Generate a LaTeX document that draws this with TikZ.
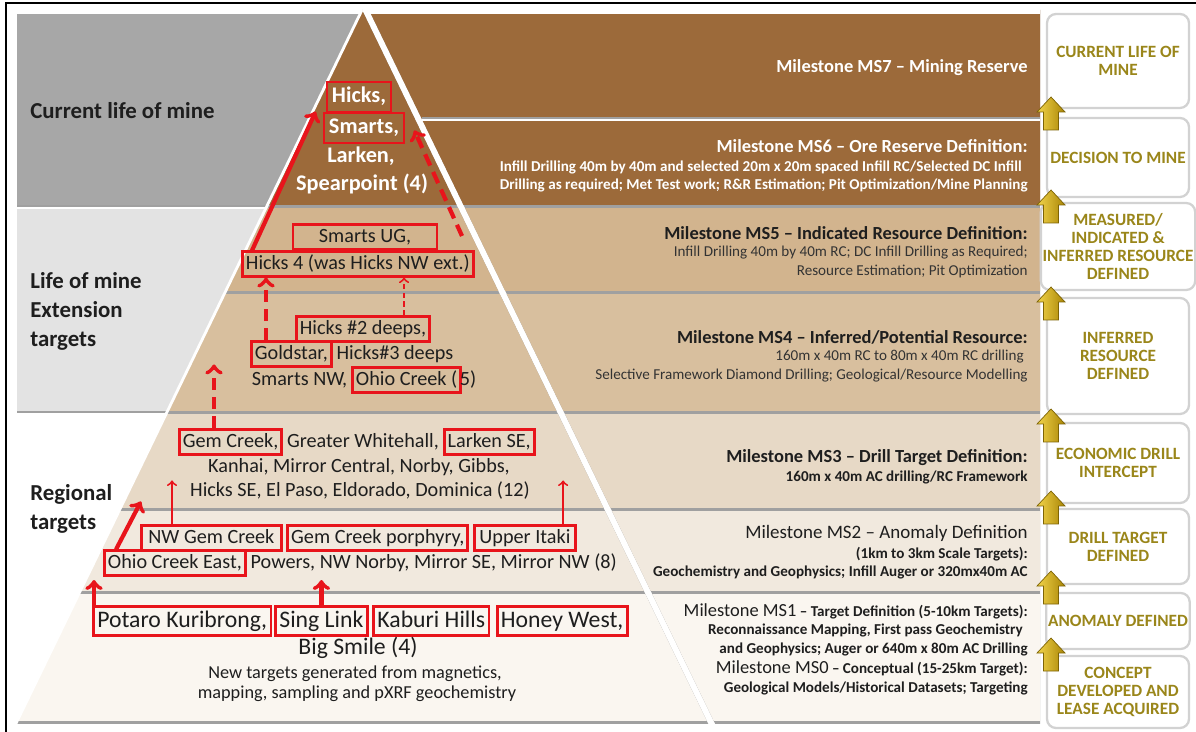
\documentclass[tikz,border=0pt]{standalone}
\usepackage{fontspec}
\setmainfont{Carlito}
\usetikzlibrary{positioning,calc}

% colours of the tiers and bands
\definecolor{brownD}{HTML}{9C6A3A}
\definecolor{tanA}{HTML}{D2B48E}
\definecolor{tanB}{HTML}{D8BF9E}
\definecolor{tanC}{HTML}{E7D9C6}
\definecolor{tanD}{HTML}{F1E9DE}
\definecolor{tanE}{HTML}{FAF6F0}
\definecolor{panelgray}{HTML}{A7A7A7}
\definecolor{panellight}{HTML}{E3E3E3}
\definecolor{shadowgray}{HTML}{A0A0A0}
\definecolor{boxred}{HTML}{E8141B}
\definecolor{txtdark}{HTML}{1E1E1E}
\definecolor{txtgray}{HTML}{333333}
\definecolor{goldtxt}{HTML}{9A861A}
\definecolor{goldlight}{HTML}{F2D44A}
\definecolor{golddark}{HTML}{A98506}
\definecolor{goldedge}{HTML}{7E6405}

\tikzset{
  tier/.style={font=\fontsize{11.5}{13}\selectfont, text=txtdark, inner xsep=2pt, inner ysep=1.5pt, text height=8.4pt, text depth=2.4pt},
  tierbig/.style={font=\fontsize{13.5}{15}\selectfont, text=txtdark, inner xsep=2.2pt, inner ysep=2pt, text height=9.8pt, text depth=2.8pt},
  apex/.style={font=\bfseries\fontsize{12.7}{15}\selectfont, text=white, inner xsep=2.8pt, inner ysep=2.3pt, text height=9.5pt, text depth=3pt},
  hl/.style={draw=boxred, line width=1.6pt},
  note/.style={font=\fontsize{10.4}{12}\selectfont, text=txtdark, inner sep=0pt},
  sidelabel/.style={anchor=west, align=left, inner sep=0pt, text=txtdark, font=\bfseries\fontsize{13}{16.5}\selectfont},
  mstitle/.style={anchor=east, inner sep=0pt, text=txtdark, font=\bfseries\fontsize{10.5}{12}\selectfont},
  msnote/.style={anchor=east, inner sep=0pt, text=txtgray, font=\fontsize{8.6}{10}\selectfont},
  msnotebf/.style={anchor=east, inner sep=0pt, text=txtdark, font=\bfseries\fontsize{8.6}{10}\selectfont},
  stagebox/.style={draw=gray!35, line width=1.3pt, fill=white, rounded corners=0.18cm, minimum width=2.84cm, align=center, text=goldtxt, font=\bfseries\fontsize{9.8}{10.4}\selectfont, inner sep=1pt},
  goldup/.style={left color=goldlight, right color=golddark, draw=goldedge, line width=0.4pt},
  uparrow/.style={->, draw=boxred, line width=2.4pt},
  dashedup/.style={uparrow, dash pattern=on 7pt off 4pt},
  thinarrow/.style={->, draw=boxred, line width=1.1pt},
}

\begin{document}
\begin{tikzpicture}[x=0.02cm,y=-0.02cm]
  \useasboundingbox (0,0) rectangle (1196,732);
  \clip (0,0) rectangle (1196,732);
  \fill[white] (0,0) rectangle (1196,732);

  % pyramid corners (apex and base) and gap to the bands
  \def\apexx{362}
  \def\apexy{10}
  \def\baselx{12.8}
  \def\baserx{711.2}
  \def\basey{730}
  \def\bandgap{7}

  % left side panels
  \fill[shadowgray] (17,14) rectangle (362,207.5);
  \fill[panelgray] (17,14) rectangle (362,205);
  \fill[shadowgray] (17,209) rectangle (362,413.5);
  \fill[panellight] (17,209) rectangle (362,411);

  % shade the tiers of the pyramid and the milestone bands beside them
  \foreach \ya/\yb/\col in {10/205/brownD,209/291/tanA,295/411/tanB,415/508/tanC,512/590/tanD,594/720/tanE}{
    \begin{scope}
      \clip (0,\ya) rectangle (1040,\yb+3);
      \fill[shadowgray] (\apexx,\apexy) -- (\baselx,\basey) -- (\baserx,\basey) -- cycle;
      \fill[shadowgray] (\apexx+\bandgap,\apexy) -- (\baserx+\bandgap,\basey) -- (1040,\basey) -- (1040,\apexy) -- cycle;
    \end{scope}
    \begin{scope}
      \clip (0,\ya) rectangle (1040,\yb);
      \fill[\col] (\apexx,\apexy) -- (\baselx,\basey) -- (\baserx,\basey) -- cycle;
      \fill[\col] (\apexx+\bandgap,\apexy) -- (\baserx+\bandgap,\basey) -- (1040,\basey) -- (1040,\apexy) -- cycle;
    \end{scope}
  }
  % split MS7 from MS6 and trim the band top
  \fill[shadowgray] (422,117) rectangle (1040,119.5);
  \fill[white] (422,119.5) rectangle (1040,121);
  \fill[white] (366,0) rectangle (1040,14);
  \draw[white, line width=1.6pt] (\baselx,\basey) -- (\apexx,\apexy);

  % side labels
  \node[sidelabel] (current) at (30,111) {Current life of mine};
  \node[sidelabel] (extension) at (30,311) {Life of mine\\Extension\\targets};
  \node[sidelabel] (regional) at (30,509) {Regional\\targets};

  % top tier
  \node[apex, hl] (hicks) at (359,97) {Hicks,};
  \node[apex, hl] (smarts) at (364,128) {Smarts,};
  \node[apex] (larken) at (361,157) {Larken,};
  \node[apex] (spear) at (362,185) {Spearpoint (4)};

  % second tier
  \node[tier, hl, minimum width=2.88cm] (smartsug) at (365,237) {Smarts UG,};
  \node[tier, hl, anchor=west] (hicksfour) at (241,264) {Hicks 4 (was Hicks NW ext.)};

  % third tier
  \node[tier, hl] (hickstwo) at (363,329) {Hicks \#2 deeps,};
  \node[tier, hl, anchor=west] (goldstar) at (250,354) {Goldstar,};
  \node[tier, right=0pt of goldstar] (hicksthree) {Hicks\#3 deeps};
  \node[tier, anchor=west] (smartsnw) at (248,380) {Smarts NW,};
  \node[tier, hl, right=0pt of smartsnw] (ohio) {Ohio Creek (};
  \node[tier, right=-3.5pt of ohio] (ohiofive) {5)};

  % fourth tier
  \node[tier, hl, anchor=west] (gemcreek) at (178,442) {Gem Creek,};
  \node[tier, right=0pt of gemcreek] (whitehall) {Greater Whitehall,};
  \node[tier, hl, right=0pt of whitehall] (larkense) {Larken SE,};
  \node[tier] (kanhai) at (359,467) {Kanhai, Mirror Central, Norby, Gibbs,};
  \node[tier] (hicksse) at (360,491) {Hicks SE, El Paso, Eldorado, Dominica (12)};

  % fifth tier
  \node[tier, hl, anchor=west, inner xsep=4pt] (nwgem) at (140,538) {NW Gem Creek};
  \node[tier, hl, right=2pt of nwgem] (gemporph) {Gem Creek porphyry,};
  \node[tier, hl, right=2pt of gemporph, inner xsep=3pt] (upperitaki) {Upper Itaki};
  \node[tier, hl, anchor=west] (ohioeast) at (103,563) {Ohio Creek East,};
  \node[tier, right=0pt of ohioeast] (powers) {Powers, NW Norby, Mirror SE, Mirror NW (8)};

  % base tier
  \node[tierbig, hl, anchor=west] (potaro) at (92,621) {Potaro Kuribrong,};
  \node[tierbig, hl, right=1pt of potaro] (singlink) {Sing Link};
  \node[tierbig, hl, right=2pt of singlink] (kaburi) {Kaburi Hills};
  \node[tierbig, hl, right=3pt of kaburi] (honey) {Honey West,};
  \node[tierbig] (bigsmile) at (358,648) {Big Smile (4)};
  \node[note] (newtargets) at (355,674) {New targets generated from magnetics,};
  \node[note] (mapping) at (357,694) {mapping, sampling and pXRF geochemistry};

  % red arrows between the targets
  \draw[uparrow] ($(hicksfour.north west)+(11,0)$) -- ($(smarts.north west)+(-7,0)$);
  \coordinate (ugside) at (462,236);
  \draw[dashedup] (ugside) -- ($(smarts.south east)+(9,-14)$);
  \coordinate (gs) at ($(goldstar.north west)+(16,0)$);
  \draw[dashedup] (gs) -- (gs |- hicksfour.south);
  \coordinate (h2) at ($(hickstwo.north east)+(-27,0)$);
  \draw[thinarrow, dash pattern=on 3pt off 2pt] (h2) -- (h2 |- hicksfour.south);
  \coordinate (gc) at ($(gemcreek.north west)+(36,0)$);
  \coordinate (gctip) at ($(gc)+(0,-64)$);
  \draw[dashedup] (gc) -- (gctip);
  \coordinate (nw) at ($(nwgem.north west)+(32,0)$);
  \coordinate (nwtip) at ($(nw)+(0,-44)$);
  \draw[thinarrow] (nw) -- (nwtip);
  \coordinate (ui) at ($(upperitaki.north east)+(-14,0)$);
  \coordinate (uitip) at ($(ui)+(0,-44)$);
  \draw[thinarrow] (ui) -- (uitip);
  \coordinate (oetip) at ($(ohioeast.north west)+(38,-48)$);
  \draw[uparrow] ($(ohioeast.north west)+(13,0)$) -- (oetip);
  \coordinate (pktip) at ($(potaro.north west)+(2,-25)$);
  \draw[uparrow] ($(potaro.north west)+(2,0)$) -- (pktip);
  \coordinate (sltip) at ($(singlink.north)+(0,-25)$);
  \draw[uparrow] (singlink.north) -- (sltip);

  % milestone texts
  \node[mstitle, text=white] (ms7) at (1028,68) {Milestone MS7 -- Mining Reserve};
  \node[mstitle, text=white] (ms6) at (1028,146) {Milestone MS6 -- Ore Reserve Definition:};
  \node[msnotebf, text=white] (ms6a) at (1022,167) {Infill Drilling 40m by 40m and selected 20m x 20m spaced Infill RC/Selected DC Infill};
  \node[msnotebf, text=white] (ms6b) at (1028,185) {Drilling as required; Met Test work; R\&R Estimation; Pit Optimization/Mine Planning};
  \node[mstitle] (ms5) at (1028,233) {Milestone MS5 -- Indicated Resource Definition:};
  \node[msnote] (ms5a) at (1028,253) {Infill Drilling 40m by 40m RC; DC Infill Drilling as Required;};
  \node[msnote] (ms5b) at (1028,271) {Resource Estimation; Pit Optimization};
  \node[mstitle] (ms4) at (1028,337) {Milestone MS4 -- Inferred/Potential Resource:};
  \node[msnote] (ms4a) at (1024,357) {160m x 40m RC to 80m x 40m RC drilling};
  \node[msnote] (ms4b) at (1028,376) {Selective Framework Diamond Drilling; Geological/Resource Modelling};
  \node[mstitle] (ms3) at (1028,458) {Milestone MS3 -- Drill Target Definition:};
  \node[msnotebf] (ms3a) at (1028,477) {160m x 40m AC drilling/RC Framework};
  \node[mstitle, font=\fontsize{10.8}{12}\selectfont] (ms2) at (1028,533) {Milestone MS2 -- Anomaly Definition};
  \node[msnotebf] (ms2a) at (1028,554) {(1km to 3km Scale Targets):};
  \node[msnotebf] (ms2b) at (1028,572) {Geochemistry and Geophysics; Infill Auger or 320mx40m AC};
  \node[msnotebf] (ms1) at (1028,611) {{\mdseries\fontsize{10.5}{12}\selectfont Milestone MS1} -- Target Definition (5-10km Targets):};
  \node[msnotebf] (ms1a) at (1023,630) {Reconnaissance Mapping, First pass Geochemistry};
  \node[msnotebf] (ms1b) at (1028,649) {and Geophysics; Auger or 640m x 80m AC Drilling};
  \node[msnotebf] (ms0) at (1028,668) {{\mdseries\fontsize{10.5}{12}\selectfont Milestone MS0} -- Conceptual (15-25km Target):};
  \node[msnotebf] (ms0a) at (1028,688) {Geological Models/Historical Datasets; Targeting};

  % stage boxes on the right
  \foreach \yc/\h/\lbl [count=\i] in {61/1.88/{CURRENT LIFE OF\\MINE}, 157.5/1.58/{DECISION TO MINE}, 246.5/1.74/{MEASURED/\\INDICATED \&\\INFERRED RESOURCE\\DEFINED}, 356/2.32/{INFERRED\\RESOURCE\\DEFINED}, 463/1.6/{ECONOMIC DRILL\\INTERCEPT}, 546.5/1.5/{DRILL TARGET\\DEFINED}, 621/1.12/{ANOMALY DEFINED}, 692/1.44/{CONCEPT\\DEVELOPED AND\\LEASE ACQUIRED}}
    \node[stagebox, minimum height=\h cm] (stage\i) at (1118,\yc) {\lbl};

  % gold arrows between the stages
  \foreach \ty in {97,190,287,409,491,571,638}
    \draw[goldup] (1051,\ty) -- ++(14,15) -- ++(-6.5,0) -- ++(0,18) -- ++(-15,0) -- ++(0,-18) -- ++(-6.5,0) -- cycle;

  % outer frame
  \draw[line width=1.5pt] (6,3) rectangle (1210,745);
\end{tikzpicture}
\end{document}
